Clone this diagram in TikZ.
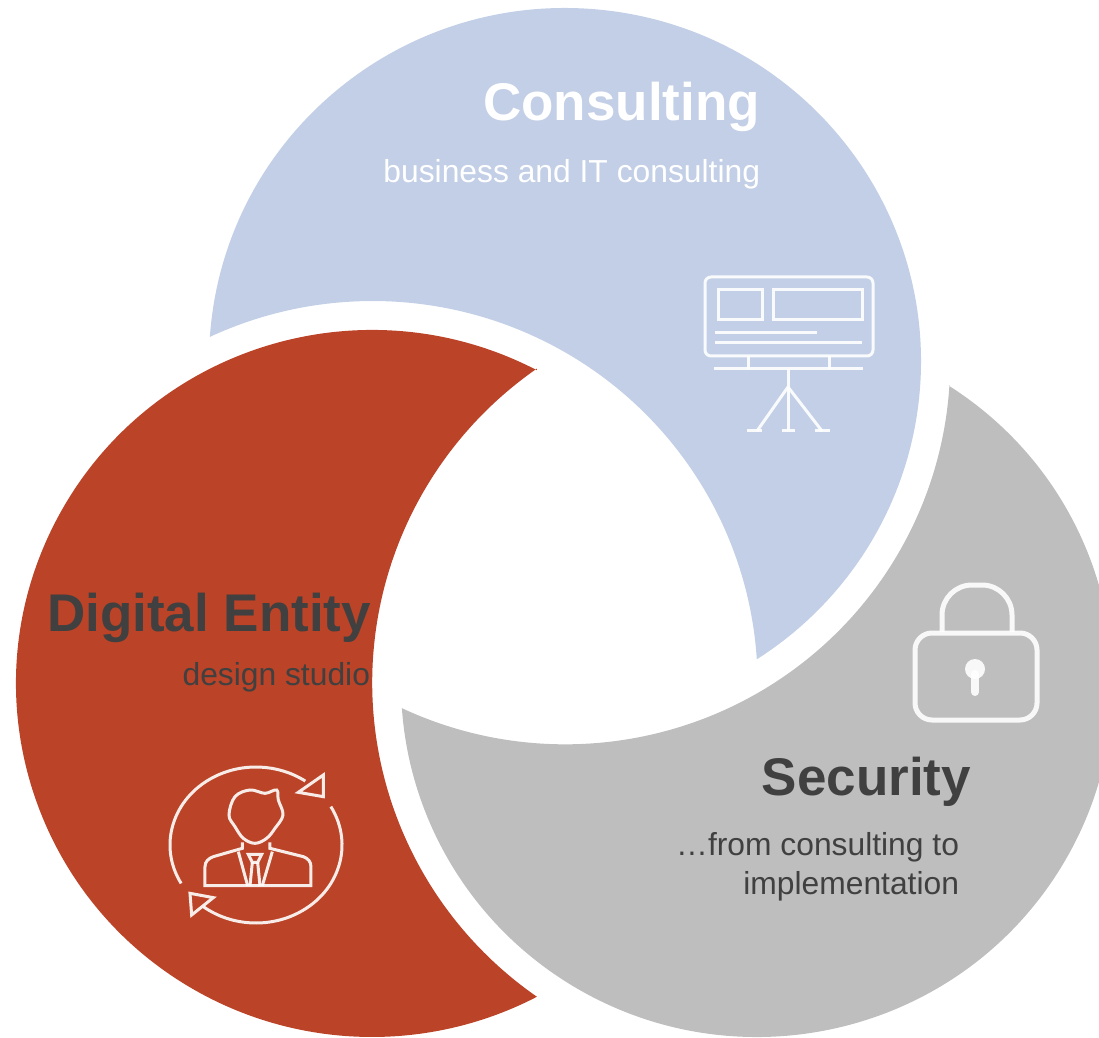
\documentclass[tikz,border=0pt]{standalone}
\usepackage{fontspec}
\usetikzlibrary{calc}
\setmainfont{Liberation Sans}
\definecolor{cblue}{HTML}{C2CFE6}
\definecolor{cred}{HTML}{BB4327}
\definecolor{cgray}{HTML}{BEBEBE}
\definecolor{cdark}{HTML}{404040}
\tikzset{
  lbl/.style={anchor=base east,inner sep=0pt,outer sep=0pt},
  bigb/.style={lbl,font=\fontsize{53}{60}\selectfont\bfseries},
  subt/.style={lbl,font=\fontsize{31.8}{38}\selectfont},
  ico/.style={draw=white,line width=3pt,opacity=.9},
  outr/.style={x radius=356pt,y radius=353.5pt},
  innr/.style={x radius=385pt,y radius=383pt}
}
\begin{document}
\begin{tikzpicture}[x=1pt,y=1pt]
\useasboundingbox (0,0) rectangle (1099,1037);
\clip (0,0) rectangle (1099,1037);
\coordinate (B) at (565,675.5);
\coordinate (R) at (372,353.5);
\coordinate (G) at (757,353.5);
% blue
\fill[cblue] ($(B)+(176:356pt and 353.5pt)$) arc[start angle=176,end angle=-57.4,outr]
  arc[start angle=3.7,end angle=115,innr] -- cycle;
% red
\fill[cred] ($(R)+(62.4:356pt and 353.5pt)$) arc[start angle=62.4,end angle=297.6,outr]
  arc[start angle=235.1,end angle=124.9,innr] -- cycle;
% gray
\fill[cgray] ($(G)+(57.4:356pt and 353.5pt)$) arc[start angle=57.4,end angle=-176,outr]
  arc[start angle=244.9,end angle=356.5,innr] -- cycle;
% presentation icon
\begin{scope}[x=1pt,y=-1pt,yshift=1037pt,line cap=butt]
  \draw[ico,rounded corners=6pt] (705,277) rectangle (873,356);
  \draw[ico] (718,290) rectangle (762,320);
  \draw[ico] (773,290) rectangle (862,320);
  \draw[ico] (715,333) -- (817,333);
  \draw[ico] (715,343) -- (862,343);
  \draw[ico] (748,356) -- (748,369);
  \draw[ico] (829,356) -- (829,369);
  \draw[ico] (714,369) -- (863,369);
  \draw[ico] (788,369) -- (788,431);
  \draw[ico] (788,387) -- (757,431);
  \draw[ico] (788,387) -- (822,431);
  \draw[ico] (747,431) -- (762,431);
  \draw[ico] (782,431) -- (795,431);
  \draw[ico] (815,431) -- (830,431);
  % lock icon
  \draw[ico,line width=5pt,rounded corners=17pt] (915,633) rectangle (1037,720);
  \draw[ico,line width=5pt,rounded corners=30pt] (942,632) -- (942,585) -- (1012,585) -- (1012,632);
  \fill[white,opacity=.9] (975,669) circle[radius=10pt];
  \draw[white,opacity=.9,line width=8pt,line cap=round] (975,674) -- (975,692);
\end{scope}
% arrows ring
\draw[ico] (256,192) ++(209.5:86pt and 78pt) arc[start angle=209.5,end angle=55,x radius=86pt,y radius=78pt];
\draw[ico] (256,192) ++(29.5:86pt and 78pt) arc[start angle=29.5,end angle=-127.6,x radius=86pt,y radius=78pt];
% person icon, arrow heads
\begin{scope}[x=0.3333pt,y=-0.3333pt,yshift=282pt,xshift=155pt]
  \draw[ico] (505,60) -- (505,125) -- (430,112) -- cycle;
  \draw[ico] (105,415) -- (175,428) -- (110,480) -- cycle;
  \draw[ico] plot[smooth cycle,tension=.6] coordinates {(222,180) (240,125) (285,105) (330,115) (365,105) (370,135) (384,180) (360,220) (335,250) (300,265) (265,250) (240,215)};
  \draw[ico] (262,262) -- (262,280) -- (175,305) to[out=-160,in=90] (150,335) -- (150,392) -- (468,392) -- (468,335) to[out=90,in=-20] (445,305) -- (345,280) -- (345,262);
  \draw[ico] (250,290) -- (278,392);
  \draw[ico] (352,290) -- (322,392);
  \draw[ico] (280,298) -- (320,298) -- (308,322) -- (292,322) -- cycle;
  \draw[ico] (292,322) -- (285,392);
  \draw[ico] (308,322) -- (315,392);
\end{scope}
% texts
\node[bigb,text=white] (t1) at (760,916.5) {Consulting};
\node[subt,text=white] (t2) at (760,854) {business and IT consulting};
\node[bigb,text=cdark] (t3) at (371,406) {Digital Entity};
\node[subt,text=cdark] (t4) at (370,352) {design studio};
\node[bigb,text=cdark] (t5) at (971,241.5) {Security};
\node[subt,text=cdark] (t6) at (959,182) {…from consulting to};
\node[subt,text=cdark] (t7) at (959,143) {implementation};
\end{tikzpicture}
\end{document}
